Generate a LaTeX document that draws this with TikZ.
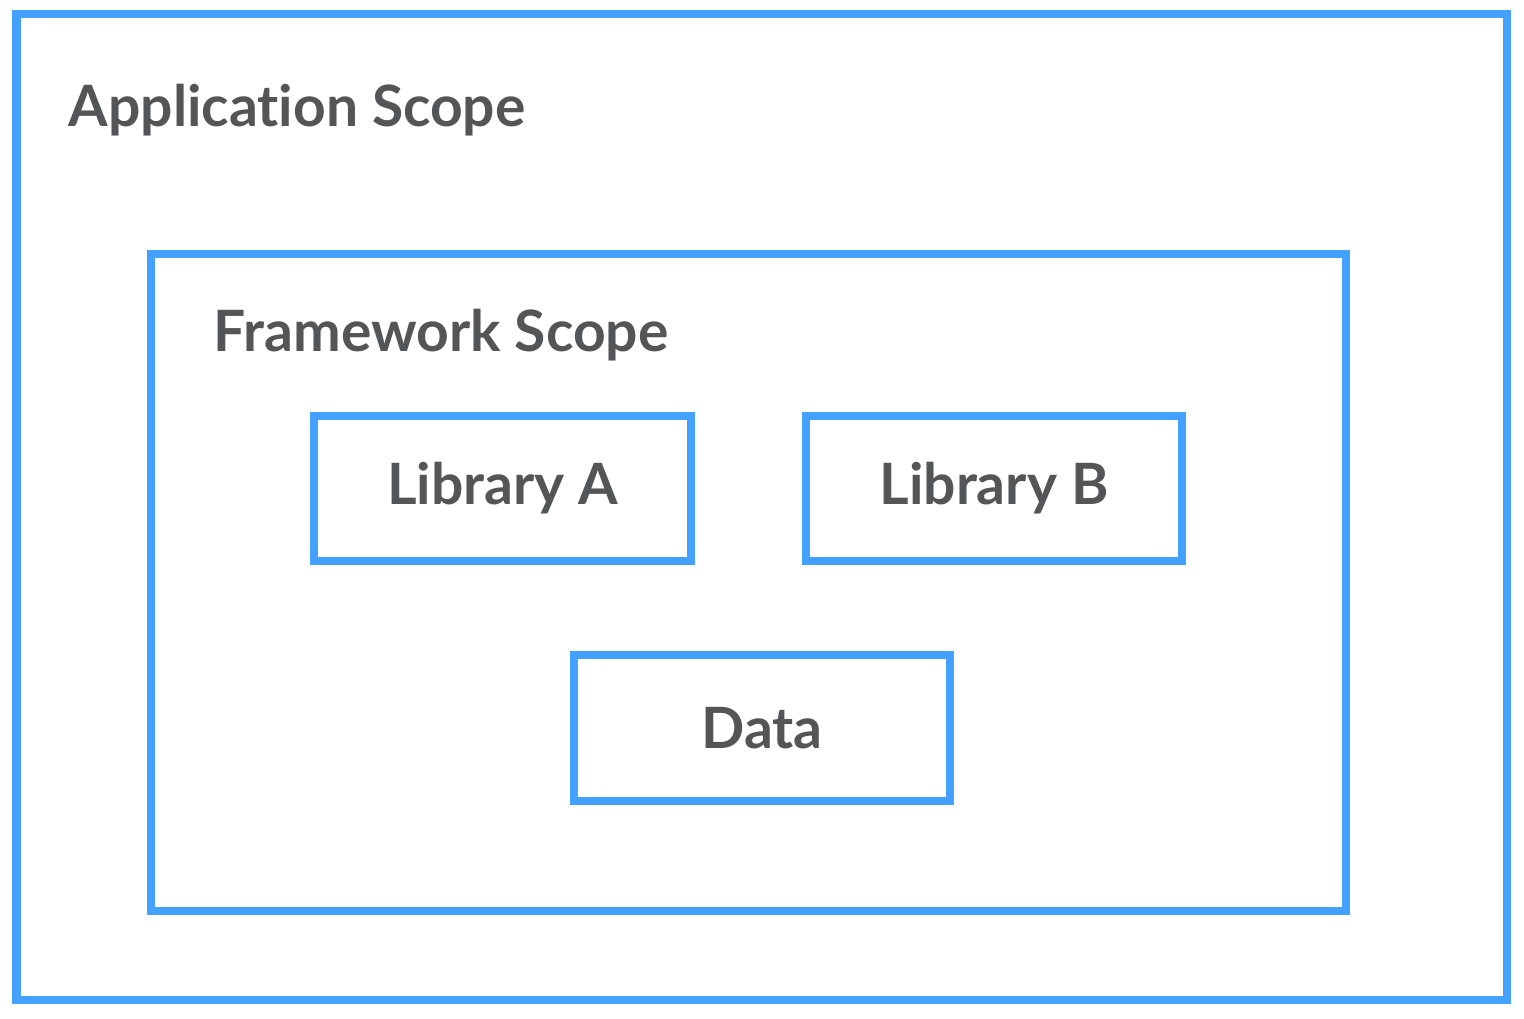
\documentclass[tikz,border=0pt]{standalone}
\usepackage{fontspec}
\setmainfont{Lato}[Ligatures=NoCommon]
\usepackage{tikz}
\usetikzlibrary{positioning}
\definecolor{boxblue}{HTML}{45A1FF}
\definecolor{labelgray}{HTML}{545557}

\begin{document}
\begin{tikzpicture}[x=0.01cm,y=-0.01cm,
  scopebox/.style={draw=boxblue,line width=0.08cm,inner sep=0pt,outer sep=0pt},
  libbox/.style={scopebox,minimum width=3.76cm,minimum height=1.45cm,font=\fontsize{16.2}{19}\selectfont\bfseries,text=labelgray},
  scopelabel/.style={anchor=base west,inner sep=0pt,font=\fontsize{16.2}{19}\selectfont\bfseries,text=labelgray}]
\useasboundingbox (0,0) rectangle (1524,1019);
\draw[scopebox] (16.5,14.5) rectangle (1506.5,1000);
\node[scopelabel] (app) at (68,127) {Application Scope};
\draw[scopebox] (151,254) rectangle (1346,911);
\node[scopelabel] (fw) at (213,352) {Framework Scope};
\node[libbox] (liba) at (502.5,488.5) {Library A};
\node[libbox] (libb) at (994,488.5) {Library B};
\node[libbox] (data) at (762,728) {Data};
\end{tikzpicture}
\end{document}
